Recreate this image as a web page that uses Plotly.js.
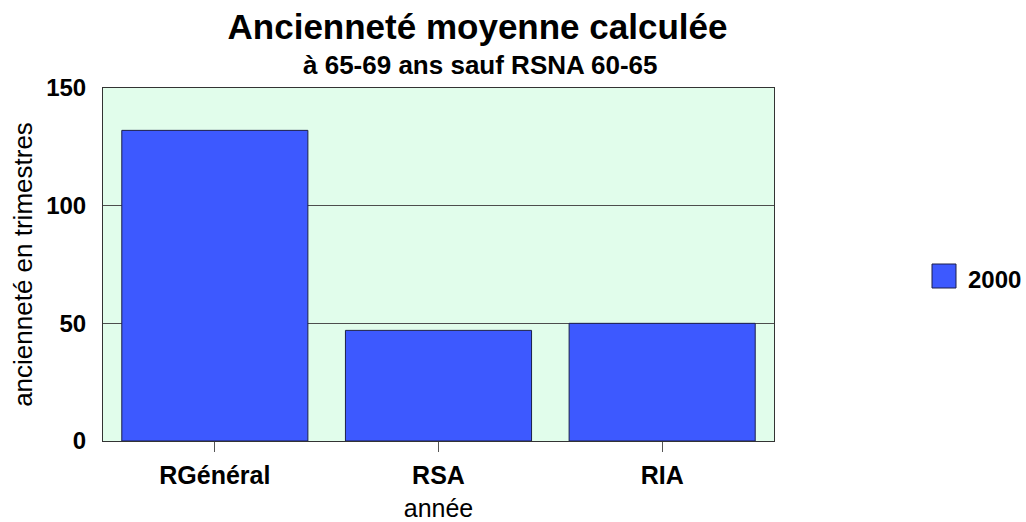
<!DOCTYPE html>
<html><head><meta charset="utf-8">
<script src="https://cdn.plot.ly/plotly-3.0.1.min.js"></script>
<style>html,body{margin:0;padding:0;background:#fff}</style>
</head><body>
<div id="chart" style="width:1026px;height:522px"></div>
<script>
const categories = ["RGénéral", "RSA", "RIA"];
const values2000 = [132, 47, 50];
const seriesName = "2000";
const yTicks = [0, 50, 100, 150];

const FONT = "Liberation Sans, Arial, sans-serif";
const barColor = "#3d59ff";

const traces = [{
  type: "bar",
  x: categories,
  y: values2000,
  name: seriesName,
  marker: {color: barColor, line: {color: "#1c1f4a", width: 1}},
  showlegend: false,
  hoverinfo: "x+y"
}];

const layout = {
  width: 1026, height: 522,
  margin: {l: 103, r: 252, t: 88, b: 81},
  paper_bgcolor: "#ffffff",
  plot_bgcolor: "#e1fdeb",
  bargap: 0.168,
  font: {family: FONT, color: "#000"},
  title: {
    text: "<b>Ancienneté moyenne calculée</b>",
    font: {family: FONT, size: 35, color: "#000"},
    x: 477.5/1026, xref: "container", xanchor: "center",
    y: 1 - 27/522, yref: "container", yanchor: "middle"
  },
  xaxis: {
    type: "category",
    showgrid: false,
    showline: true, linecolor: "#333", linewidth: 1, mirror: true,
    ticks: "outside", ticklen: 10, tickcolor: "#555", tickwidth: 1,
    tickfont: {family: FONT, size: 25, color: "#000", weight: "bold"},
    ticklabelstandoff: 2,
    title: {text: "année", font: {family: FONT, size: 25, color: "#000"}, standoff: 16},
    automargin: false, fixedrange: true
  },
  yaxis: {
    range: [0, 150],
    tickvals: yTicks,
    ticktext: yTicks.map(String),
    showgrid: true, gridcolor: "#4d4d4d", gridwidth: 1,
    zeroline: false,
    showline: true, linecolor: "#333", linewidth: 1, mirror: true,
    ticks: "outside", ticklen: 11, tickcolor: "rgba(0,0,0,0)",
    tickfont: {family: FONT, size: 24, color: "#000", weight: "bold"},
    title: {text: "ancienneté en trimestres", font: {family: FONT, size: 26, color: "#000"}, standoff: 6},
    automargin: false, fixedrange: true
  },
  shapes: [{
    type: "rect", xref: "paper", yref: "paper",
    x0: (932-103)/671, x1: (956-103)/671,
    y0: (441-288)/353, y1: (441-264)/353,
    fillcolor: barColor, line: {color: "#1c1f4a", width: 1}
  }],
  annotations: [
    {
      text: "<b>à 65-69 ans sauf RSNA 60-65</b>",
      xref: "paper", yref: "paper",
      x: (480-103)/671, y: (441-65)/353,
      xanchor: "center", yanchor: "middle", showarrow: false,
      font: {family: FONT, size: 26, color: "#000"}
    },
    {
      text: "<b>" + seriesName + "</b>",
      xref: "paper", yref: "paper",
      x: (966-103)/671, y: (441-279)/353,
      xanchor: "left", yanchor: "middle", showarrow: false,
      font: {family: FONT, size: 24, color: "#000"}
    }
  ]
};

Plotly.newPlot("chart", traces, layout, {displayModeBar: false});
</script>
</body></html>
